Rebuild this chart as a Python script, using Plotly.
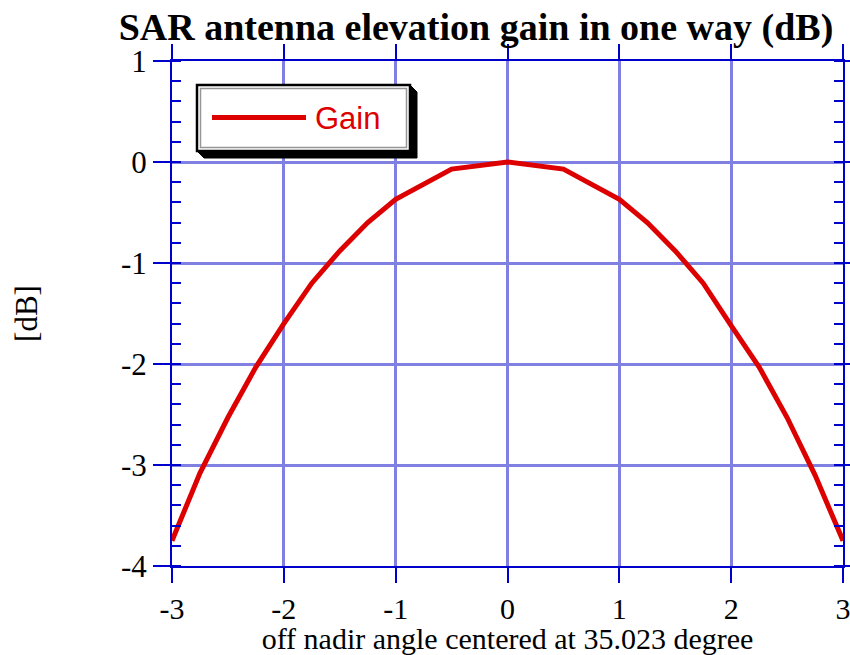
import plotly.graph_objects as go

# ---- data ----
angle = [-3, -2.75, -2.5, -2.25, -2, -1.75, -1.5, -1.25, -1, -0.5, 0,
         0.5, 1, 1.25, 1.5, 1.75, 2, 2.25, 2.5, 2.75, 3]
gain_db = [-3.75, -3.08, -2.53, -2.03, -1.60, -1.20, -0.88, -0.60, -0.37, -0.07, 0.0,
           -0.07, -0.37, -0.60, -0.88, -1.20, -1.62, -2.03, -2.53, -3.10, -3.75]
x_ticks = [-3, -2, -1, 0, 1, 2, 3]
x_tick_labels = ["-3", "-2", "-1", "0", "1", "2", "3"]
y_ticks = [1, 0, -1, -2, -3, -4]
y_tick_labels = ["1", "0", "-1", "-2", "-3", "-4"]
series_name = "Gain"

W, H = 850, 655
L, R, T, B = 172, 7, 61, 89
PW, PH = W - L - R, H - T - B

def px(x):
    return (x - L) / PW

def py(y):
    return (H - B - y) / PH

BLUE = "rgb(0,0,204)"
GRID = "rgb(128,128,226)"
RED = "#dd0000"
SERIF = "Liberation Serif, Times New Roman, serif"

fig = go.Figure()
fig.add_trace(go.Scatter(x=angle, y=gain_db, mode="lines", name=series_name,
                         line=dict(color=RED, width=5), showlegend=False))

axis_common = dict(showline=True, linecolor=BLUE, linewidth=2, mirror="allticks",
                   tickcolor=BLUE, tickwidth=2, zeroline=False, automargin=False)

fig.update_layout(
    width=W, height=H,
    margin=dict(l=L, r=R, t=T, b=B, autoexpand=False),
    paper_bgcolor="white", plot_bgcolor="white",
    showlegend=False,
    title=dict(text="<b>SAR antenna elevation gain in one way (dB)</b>",
               x=476 / W, xanchor="center", xref="container",
               y=1 - 27 / H, yanchor="middle", yref="container",
               font=dict(family=SERIF, size=38, color="black")),
    xaxis=dict(range=[-3, 3], tickvals=x_ticks, ticktext=x_tick_labels,
               ticks="outside", ticklen=15, ticklabeloverflow="allow",
               showgrid=True, gridcolor=GRID, gridwidth=3,
               tickfont=dict(family=SERIF, size=30, color="black"),
               title=dict(text="off nadir angle centered at 35.023 degree", standoff=0,
                          font=dict(family=SERIF, size=30, color="black")),
               **axis_common),
    yaxis=dict(range=[-4, 1], tickvals=y_ticks, ticktext=y_tick_labels,
               ticks="outside", ticklen=17, ticklabeloverflow="allow",
               showgrid=True, gridcolor=GRID, gridwidth=3,
               minor=dict(ticks="inside", dtick=0.2, ticklen=9, tickcolor=BLUE,
                          tickwidth=2, showgrid=False),
               tickfont=dict(family=SERIF, size=31, color="black"),
               title=dict(text="[dB]", standoff=74,
                          font=dict(family=SERIF, size=31, color="black")),
               **axis_common),
    xaxis2=dict(range=[-3, 3], tickvals=x_ticks, ticks="inside", ticklen=15,
                overlaying="x", anchor="y", showticklabels=False, showgrid=False,
                **axis_common),
    yaxis2=dict(range=[-4, 1], tickvals=y_ticks, ticks="inside", ticklen=16,
                overlaying="y", anchor="x", showticklabels=False, showgrid=False,
                **axis_common),
)

# ---- legend box (drawn) ----
shapes = []
shadow = [(197, 151), (204, 158), (417, 158), (417, 92), (410, 85)]
path = "M " + " L ".join(f"{px(a):.5f},{py(b):.5f}" for a, b in shadow) + " Z"
shapes.append(dict(type="path", path=path, xref="paper", yref="paper",
                   fillcolor="black", line=dict(color="black", width=1)))
shapes.append(dict(type="rect", xref="paper", yref="paper",
                   x0=px(197), x1=px(410), y0=py(151), y1=py(85),
                   fillcolor="white", line=dict(color="black", width=2.5)))
shapes.append(dict(type="rect", xref="paper", yref="paper",
                   x0=px(200.5), x1=px(406.5), y0=py(147.5), y1=py(88.5),
                   fillcolor="rgba(0,0,0,0)", line=dict(color="rgb(150,150,150)", width=1.5)))
shapes.append(dict(type="line", xref="paper", yref="paper",
                   x0=px(212), x1=px(306), y0=py(117.5), y1=py(117.5),
                   line=dict(color=RED, width=5)))
fig.update_layout(shapes=shapes)
fig.add_annotation(x=px(313), y=py(118), xref="paper", yref="paper",
                   xanchor="left", yanchor="middle", showarrow=False,
                   text=series_name,
                   font=dict(family="Liberation Sans, Arial, sans-serif", size=31, color=RED))

fig.write_html("out.html",
               config={"displayModeBar": False},
               post_script="document.body.style.margin='0';"
                           "document.body.style.overflow='hidden';")
